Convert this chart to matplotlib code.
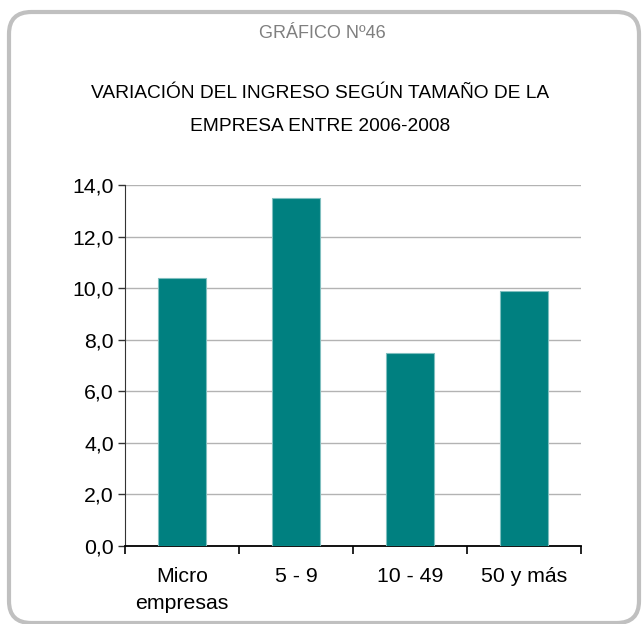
import matplotlib
matplotlib.use('Agg')
import matplotlib.pyplot as plt
from matplotlib.patches import FancyBboxPatch
from matplotlib.ticker import FuncFormatter, FixedLocator

plt.rcParams['font.family'] = ['Liberation Sans', 'DejaVu Sans']

categorias = ['Micro\nempresas', '5 - 9', '10 - 49', '50 y más']
variacion = [10.4, 13.5, 7.5, 9.9]
yticks = [0, 2, 4, 6, 8, 10, 12, 14]

W, H = 642, 624
fig = plt.figure(figsize=(W / 100, H / 100), dpi=100)

# marco redondeado gris
marco = FancyBboxPatch((9 / W, 1 / H), 630 / W, 611 / H,
                       boxstyle='round,pad=0,rounding_size=0.035',
                       transform=fig.transFigure, facecolor='none',
                       edgecolor='#c0c0c0', linewidth=3, zorder=-1)
fig.patches.append(marco)

fig.text(322 / W, 1 - 34 / H, 'GRÁFICO Nº46', ha='center', va='center',
         fontsize=13, color='#7f7f7f')
fig.text(320 / W, 1 - 93 / H, 'VARIACIÓN DEL INGRESO SEGÚN TAMAÑO DE LA',
         ha='center', va='center', fontsize=13.8, color='black')
fig.text(320 / W, 1 - 127 / H, 'EMPRESA ENTRE 2006-2008',
         ha='center', va='center', fontsize=13.8, color='black')

ax = fig.add_axes([125 / W, 1 - 546 / H, 456 / W, 361 / H])
ax.set_facecolor('none')
x = range(len(categorias))
ax.bar(x, variacion, width=0.42, color='#008080', edgecolor='#7fbfbf',
       linewidth=0.8, zorder=3)

ax.set_xlim(-0.5, len(categorias) - 0.5)
ax.set_ylim(0, 14)
ax.set_yticks(yticks)
ax.yaxis.set_major_formatter(FuncFormatter(lambda v, p: f'{v:.1f}'.replace('.', ',')))
ax.grid(axis='y', color='#b3b3b3', linewidth=1, zorder=0)

# marcas en los límites de cada categoría, etiquetas en el centro
ax.xaxis.set_major_locator(FixedLocator([i - 0.5 for i in range(len(categorias) + 1)]))
ax.xaxis.set_major_formatter(FuncFormatter(lambda v, p: ''))
ax.xaxis.set_minor_locator(FixedLocator(list(x)))
ax.set_xticklabels(categorias, minor=True, linespacing=1.55)
ax.tick_params(axis='x', which='major', direction='out', length=6, width=1.2, color='black')
ax.tick_params(axis='x', which='minor', length=0, pad=15, labelsize=15.3)
ax.tick_params(axis='y', direction='out', length=5, width=1, color='#333333',
               labelsize=15.3, pad=3)

for s in ['top', 'right']:
    ax.spines[s].set_visible(False)
ax.spines['left'].set_color('#333333')
ax.spines['bottom'].set_color('black')
ax.spines['bottom'].set_linewidth(1.3)

fig.savefig('out.png', dpi=100)
